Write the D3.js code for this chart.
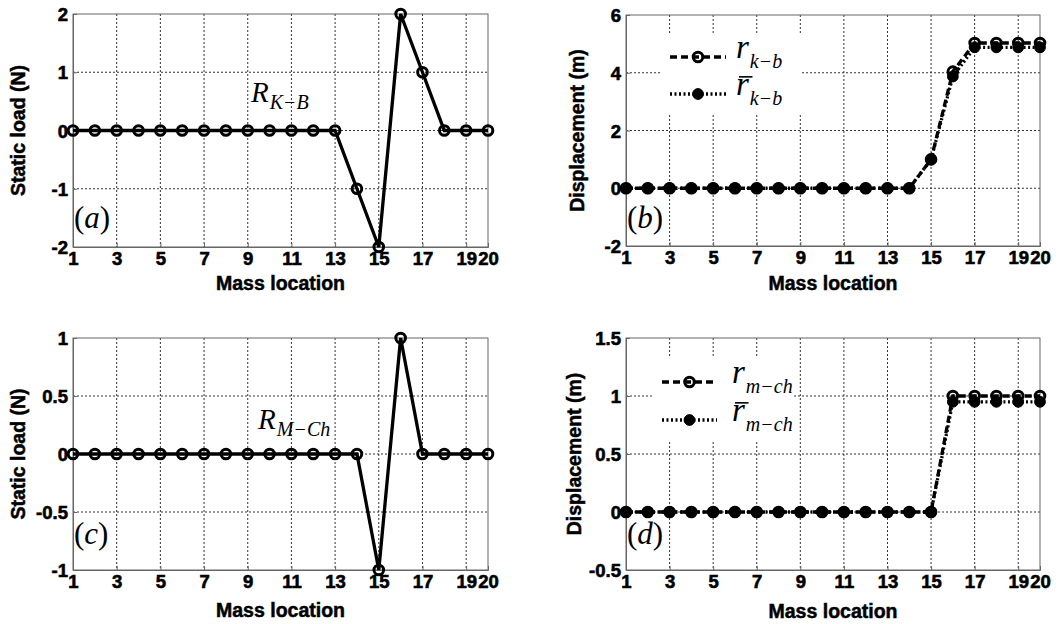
<!DOCTYPE html>
<html>
<head>
<meta charset="utf-8">
<title>Static load and displacement</title>
<style>
  body { margin: 0; background: #fff; }
  .tick text { font-family: "Liberation Sans", Arial, sans-serif; font-weight: bold; font-size: 18.5px; fill: #000; stroke: #000; stroke-width: 0.6px; }
  .axlabel { font-family: "Liberation Sans", Arial, sans-serif; font-weight: bold; font-size: 19.5px; fill: #000; stroke: #000; stroke-width: 0.5px; }
  .serif { font-family: "Liberation Serif", "Times New Roman", serif; fill: #000; }
  .grid line { stroke: #333; stroke-width: 1; stroke-dasharray: 2,2; }
</style>
</head>
<body>
<svg id="fig" width="1060" height="624"></svg>
<script src="https://d3js.org/d3.v7.min.js"></script>
<script>

// ---- data ----
var massLocation = [1, 2, 3, 4, 5, 6, 7, 8, 9, 10, 11, 12, 13, 14, 15, 16, 17, 18, 19, 20];
var xTicks = [1, 3, 5, 7, 9, 11, 13, 15, 17, 19, 20];

// (a) static load R_K-B
var loadKB = [0, 0, 0, 0, 0, 0, 0, 0, 0, 0, 0, 0, 0, -1, -2, 2, 1, 0, 0, 0];
var yTicksA = [-2, -1, 0, 1, 2];

// (b) displacement r_k-b and r-bar_k-b
var dispKB    = [0, 0, 0, 0, 0, 0, 0, 0, 0, 0, 0, 0, 0, 0, 1, 4.04, 5.03, 5.03, 5.03, 5.03];
var dispKBbar = [0, 0, 0, 0, 0, 0, 0, 0, 0, 0, 0, 0, 0, 0, 1, 3.87, 4.88, 4.88, 4.88, 4.88];
var yTicksB = [-2, 0, 2, 4, 6];

// (c) static load R_M-Ch
var loadMCh = [0, 0, 0, 0, 0, 0, 0, 0, 0, 0, 0, 0, 0, 0, -1, 1, 0, 0, 0, 0];
var yTicksC = [-1, -0.5, 0, 0.5, 1];

// (d) displacement r_m-ch and r-bar_m-ch
var dispMCh    = [0, 0, 0, 0, 0, 0, 0, 0, 0, 0, 0, 0, 0, 0, 0, 1, 1, 1, 1, 1];
var dispMChBar = [0, 0, 0, 0, 0, 0, 0, 0, 0, 0, 0, 0, 0, 0, 0, 0.95, 0.95, 0.95, 0.95, 0.95];
var yTicksD = [-0.5, 0, 0.5, 1, 1.5];

var svg = d3.select("#fig");

// italic symbol with a subscript, x,y is the baseline start
function symbol(g, x, y, main, sub, size, subSize, subDrop, bar) {
    var t = g.append("text").attr("class", "serif")
        .attr("x", x).attr("y", y).style("font-style", "italic");
    t.append("tspan").style("font-size", size + "px").text(main);
    t.append("tspan").style("font-size", subSize + "px").attr("dx", 1).attr("dy", subDrop).text(sub);
    if (bar) {
        g.append("line")
            .attr("x1", x + 3).attr("x2", x + 0.5 * size)
            .attr("y1", y - 0.55 * size).attr("y2", y - 0.55 * size)
            .attr("stroke", "#000").attr("stroke-width", 1.6);
    }
}

function plain(d) { return String(d); }   // matlab style: hyphen, no unicode minus

function panel(cfg) {
    var x = d3.scaleLinear().domain([1, 20]).range([cfg.left, cfg.right]);
    var y = d3.scaleLinear().domain(cfg.ydom).range([cfg.bottom, cfg.top]);
    var g = svg.append("g");

    // grid
    var grid = g.append("g").attr("class", "grid");
    grid.selectAll(".gx").data(xTicks.slice(1, -1)).enter().append("line")
        .attr("x1", function(d) { return x(d); }).attr("x2", function(d) { return x(d); })
        .attr("y1", cfg.top).attr("y2", cfg.bottom);
    grid.selectAll(".gy").data(cfg.yTicks.slice(1, -1)).enter().append("line")
        .attr("y1", function(d) { return y(d); }).attr("y2", function(d) { return y(d); })
        .attr("x1", cfg.left).attr("x2", cfg.right);

    // legend background (hides grid like a matlab legend)
    if (cfg.legend) {
        var L = cfg.legend;
        g.append("rect")
            .attr("x", L.x0 - 10).attr("y", L.y[0] - 24)
            .attr("width", 142).attr("height", L.y[1] - L.y[0] + 44)
            .attr("fill", "#fff");
    }

    // box
    g.append("rect")
        .attr("x", cfg.left).attr("y", cfg.top)
        .attr("width", cfg.right - cfg.left).attr("height", cfg.bottom - cfg.top)
        .attr("fill", "none").attr("stroke", "#666").attr("stroke-width", 1);

    // axes
    var ax = g.append("g").attr("transform", "translate(0," + cfg.bottom + ")")
        .call(d3.axisBottom(x).tickValues(xTicks).tickSize(-4).tickPadding(5).tickFormat(plain));
    var ay = g.append("g").attr("transform", "translate(" + cfg.left + ",0)")
        .call(d3.axisLeft(y).tickValues(cfg.yTicks).tickSize(-4).tickPadding(5).tickFormat(plain));
    [ax, ay].forEach(function(a) {
        a.select(".domain").attr("stroke", "#666");
        a.selectAll(".tick line").attr("stroke", "#666");
    });
    ay.selectAll(".tick text").attr("dy", "0.36em");

    // axis labels
    g.append("text").attr("class", "axlabel")
        .attr("x", (cfg.left + cfg.right) / 2).attr("y", cfg.xLabelY)
        .attr("text-anchor", "middle").text("Mass location");
    g.append("text").attr("class", "axlabel")
        .attr("transform", "translate(" + cfg.yLabelX + "," + ((cfg.top + cfg.bottom) / 2) + ") rotate(-90)")
        .attr("text-anchor", "middle").text(cfg.yLabel);

    // series
    cfg.series.forEach(function(s) {
        var line = d3.line().x(function(d, i) { return x(massLocation[i]); }).y(function(d) { return y(d); });
        g.append("path").datum(s.values)
            .attr("d", line).attr("fill", "none")
            .attr("stroke", "#000").attr("stroke-width", 3.3)
            .attr("stroke-dasharray", s.dash);
        g.selectAll(null).data(s.values).enter().append("circle")
            .attr("cx", function(d, i) { return x(massLocation[i]); })
            .attr("cy", function(d) { return y(d); })
            .attr("r", s.filled ? 5.4 : 4.8)
            .attr("fill", s.filled ? "#000" : "none")
            .attr("stroke", "#000").attr("stroke-width", s.filled ? 1 : 3);
    });

    // legend entries
    if (cfg.legend) {
        var L = cfg.legend;
        cfg.series.forEach(function(s, i) {
            var ly = L.y[i];
            g.append("line").attr("x1", L.x0).attr("x2", L.x1).attr("y1", ly).attr("y2", ly)
                .attr("stroke", "#000").attr("stroke-width", 3.3).attr("stroke-dasharray", s.dash);
            g.append("circle").attr("cx", (L.x0 + L.x1) / 2).attr("cy", ly)
                .attr("r", s.filled ? 5.4 : 4.8)
                .attr("fill", s.filled ? "#000" : "none")
                .attr("stroke", "#000").attr("stroke-width", s.filled ? 1 : 3);
            symbol(g, L.tx, ly + 1, "r", L.sub, 33, 20, 10, s.filled);
        });
    }

    // annotation and panel tag
    if (cfg.note) symbol(g, cfg.note.x, cfg.note.y, "R", cfg.note.sub, 29, 20, 7, false);
    var tag = g.append("text").attr("class", "serif").style("font-size", "31px")
        .attr("x", cfg.left + 1).attr("y", cfg.tagY);
    tag.append("tspan").text("(");
    tag.append("tspan").style("font-style", "italic").text(cfg.tag);
    tag.append("tspan").text(")");
}

panel({
    left: 73, right: 488, top: 14, bottom: 247, ydom: [-2, 2], yTicks: yTicksA,
    yLabel: "Static load (N)", yLabelX: 25, xLabelY: 290, tag: "a", tagY: 228,
    note: { x: 251, y: 102, sub: "K\u2212B" },
    series: [{ values: loadKB, dash: null, filled: false }]
});

panel({
    left: 626, right: 1040, top: 15, bottom: 246, ydom: [-2, 6], yTicks: yTicksB,
    yLabel: "Displacement (m)", yLabelX: 584, xLabelY: 290, tag: "b", tagY: 228,
    legend: { x0: 670, x1: 726, tx: 736, y: [57, 94], sub: "k\u2212b" },
    series: [
        { values: dispKB, dash: "7,4", filled: false },
        { values: dispKBbar, dash: "2,2.5", filled: true }
    ]
});

panel({
    left: 73, right: 488, top: 338, bottom: 570, ydom: [-1, 1], yTicks: yTicksC,
    yLabel: "Static load (N)", yLabelX: 25, xLabelY: 617, tag: "c", tagY: 544,
    note: { x: 258, y: 429, sub: "M\u2212Ch" },
    series: [{ values: loadMCh, dash: null, filled: false }]
});

panel({
    left: 626, right: 1040, top: 338, bottom: 570, ydom: [-0.5, 1.5], yTicks: yTicksD,
    yLabel: "Displacement (m)", yLabelX: 581, xLabelY: 618, tag: "d", tagY: 544,
    legend: { x0: 662, x1: 717, tx: 732, y: [382, 420], sub: "m\u2212ch" },
    series: [
        { values: dispMCh, dash: "7,4", filled: false },
        { values: dispMChBar, dash: "2,2.5", filled: true }
    ]
});

</script>
</body>
</html>
